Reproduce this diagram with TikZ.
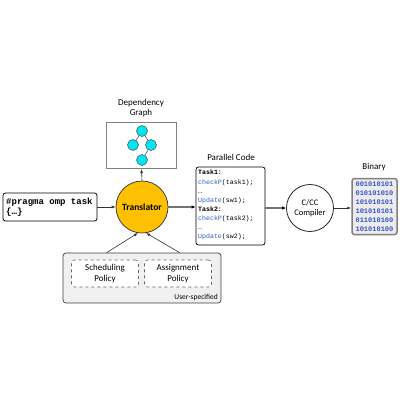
\documentclass[tikz,border=0pt]{standalone}
\usepackage{fontspec}
\setmainfont{Carlito}
\setmonofont{Liberation Mono}
\usetikzlibrary{arrows.meta,calc}
\definecolor{trans}{HTML}{FFC000}
\definecolor{gnode}{HTML}{00E5EE}
\definecolor{codeblue}{HTML}{2E5FB8}
\definecolor{binblue}{HTML}{3A55C8}
\tikzset{
  arr/.style={draw=black!80, line width=0.6pt, -{Latex[length=4pt,width=3pt]}},
  thickarr/.style={draw=black!55, line width=1.3pt, -{Latex[length=4pt,width=3.5pt,black]}},
  lbl/.style={font=\fontsize{9}{10.5}\selectfont, align=center, inner sep=0pt},
  gcirc/.style={circle, draw=black!70, line width=0.5pt, fill=gnode, minimum size=11pt, inner sep=0pt},
  gedge/.style={draw=black!75, line width=0.5pt},
  policy/.style={draw=black!60, dashed, rounded corners=3pt, line width=0.6pt, minimum width=67pt, minimum height=27pt, align=center, font=\fontsize{9}{10.5}\selectfont, inner sep=0pt},
}
\begin{document}
\begin{tikzpicture}[x=1pt,y=-1pt]
\useasboundingbox (0,0) rectangle (400,400);
% Dependency graph
\node[lbl] (deplbl) at (141,108) {Dependency\\Graph};
\node[draw=black!50, line width=1.2pt, minimum width=70pt, minimum height=46pt, inner sep=0pt] (graph) at (141.5,145.5) {};
\node[gcirc] (g1) at (142,131) {};
\node[gcirc] (g2) at (133,145) {};
\node[gcirc] (g3) at (151,145) {};
\node[gcirc] (g4) at (142,160) {};
\draw[gedge] (g1) -- (g2);
\draw[gedge] (g1) -- (g3);
\draw[gedge] (g3) -- (g4);
% Translator
\node[circle, draw=black!80, line width=0.7pt, fill=trans, minimum size=52pt, inner sep=0pt, font=\bfseries\fontsize{9.5}{11}\selectfont] (trans) at (142,207) {Translator};
% pragma box
\node[draw=black, line width=0.8pt, rounded corners=2.5pt, minimum width=94pt, minimum height=28pt, inner sep=0pt] (pragma) at (50,207) {};
\node[anchor=west, align=left, inner sep=0pt, font=\ttfamily\bfseries\fontsize{9}{9.5}\selectfont] (pragmatxt) at (6,207) {\#pragma omp task\\\{…\}};
% parallel code
\node[lbl] (pclbl) at (231,157) {Parallel Code};
\node[draw=black, line width=0.7pt, rounded corners=2.5pt, minimum width=69pt, minimum height=78pt, inner sep=0pt] (code) at (230.5,206) {};
\node[anchor=north west, align=left, inner sep=0pt, font=\ttfamily\fontsize{6.6}{9.1}\selectfont] (codetxt) at (198,170) {%
\textbf{Task1:}\\
\textcolor{codeblue}{checkP}(task1);\\
…\\
\textcolor{codeblue}{Update}(sw1);\\
\textbf{Task2:}\\
\textcolor{codeblue}{checkP}(task2);\\
…\\
\textcolor{codeblue}{Update}(sw2);};
% compiler
\node[circle, draw=black!85, line width=0.8pt, minimum size=47pt, inner sep=0pt, align=center, font=\fontsize{8.5}{10}\selectfont] (comp) at (310,208) {C/CC\\Compiler};
% binary
\node[lbl] (binlbl) at (374,167) {Binary};
\node[draw=black!50, fill=black!8, line width=1.5pt, rounded corners=2.5pt, minimum width=45pt, minimum height=56pt, inner sep=0pt] (bin) at (374.5,206.5) {};
\node[align=left, inner sep=0pt, text=binblue, font=\ttfamily\bfseries\fontsize{7}{9}\selectfont] (bintxt) at (374.5,207) {001010101\\010101010\\101010101\\101010101\\011010100\\101010100};
% user-specified
\node[draw=black!75, fill=black!6, line width=0.7pt, rounded corners=3pt, minimum width=158pt, minimum height=50pt, inner sep=0pt] (user) at (142,278) {};
\node[anchor=south east, inner sep=0pt, font=\fontsize{7.5}{9}\selectfont] (userlbl) at (218,301) {User-specified};
\node[policy, fill=white] (sched) at (105,273.5) {Scheduling\\Policy};
\node[policy, fill=white] (assign) at (178,273.5) {Assignment\\Policy};
% connectors
\coordinate (u1) at ($(user.north west)+(44,0)$);
\coordinate (u2) at ($(user.north west)+(117,0)$);
\draw[arr] (u1) -- (trans.261);
\draw[arr] (u2) -- (trans.279);
\draw[arr] (pragma.east) -- (trans.west);
\draw[arr] (trans.north) -- (graph.south);
\draw[thickarr] (trans.east) -- (code.west |- trans.east);
\draw[thickarr] (code.east |- comp.west) -- (comp.west);
\draw[arr, line width=0.8pt] (comp.east) -- (bin.west |- comp.east);
\end{tikzpicture}
\end{document}
